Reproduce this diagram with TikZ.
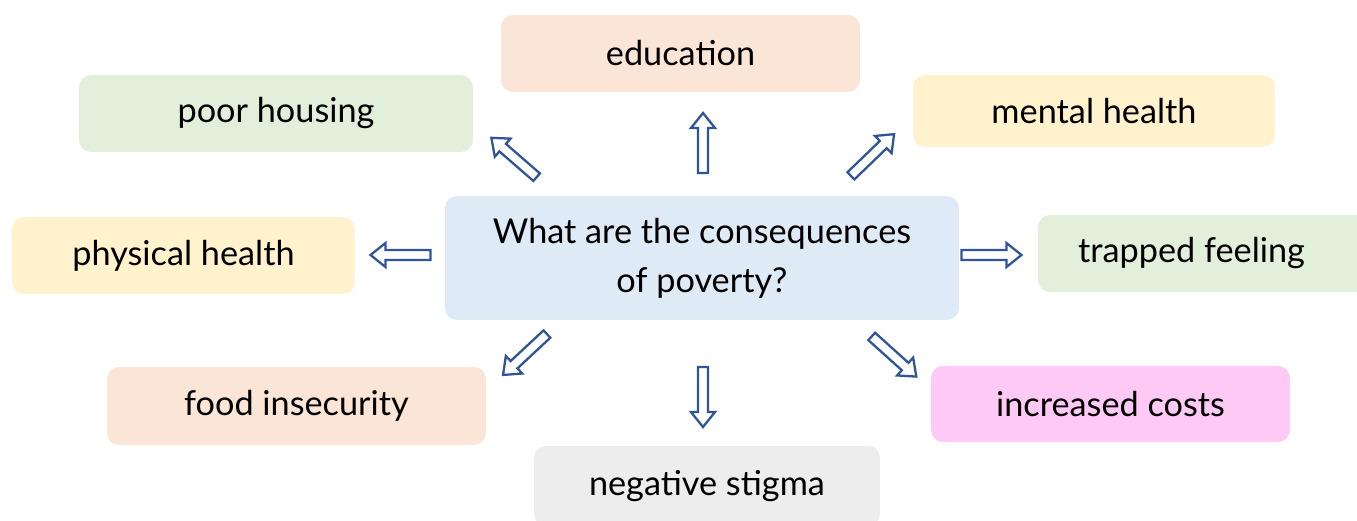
\documentclass[tikz,border=0pt]{standalone}
\usepackage{fontspec}
\setmainfont{Lato}
\usepackage{tikz}

\definecolor{peach}{HTML}{FBE5D6}
\definecolor{sage}{HTML}{E2EFDA}
\definecolor{cream}{HTML}{FFF2CC}
\definecolor{sky}{HTML}{DEEAF6}
\definecolor{pale}{HTML}{EDEDED}
\definecolor{pinky}{HTML}{FFC9F5}
\definecolor{arrowblue}{HTML}{2F5597}

\begin{document}
\begin{tikzpicture}[x=.02cm,y=-.02cm,
    box/.style={rounded corners=0.24cm,inner sep=0pt,align=center,
      font=\fontsize{19.5}{28}\selectfont},
    fatarrow/.pic={\draw[arrowblue,line width=1.3pt,fill=white,line join=miter]
      (-30,-5) -- (15,-5) -- (15,-12) -- (30,0) -- (15,12) -- (15,5) -- (-30,5) -- cycle;}]
    \useasboundingbox (0,0) rectangle (1357,521);
            \node[box,fill=sky,minimum width=10.28cm,minimum height=2.48cm] (Q) at (702,258)
                {What are the consequences\\of poverty?};
            \node[box,fill=peach,minimum width=7.18cm,minimum height=1.54cm] (Edu) at (680.5,53.5) {education};
            \node[box,fill=sage,minimum width=7.88cm,minimum height=1.54cm] (Hou) at (276,113.5) {poor housing};
            \node[box,fill=cream,minimum width=7.24cm,minimum height=1.44cm] (Men) at (1094,111) {mental health};
            \node[box,fill=cream,minimum width=6.86cm,minimum height=1.54cm] (Phy) at (183.5,255.5) {physical health};
            \node[box,fill=sage,minimum width=6.84cm,minimum height=1.54cm] (Tra) at (1209,253.5) {\hspace*{-0.7cm}trapped feeling};
            \node[box,fill=peach,minimum width=7.58cm,minimum height=1.56cm] (Foo) at (296.5,406) {food insecurity};
            \node[box,fill=pale,minimum width=6.92cm,minimum height=1.6cm] (Neg) at (707,486) {\raisebox{0.12cm}{negative stigma}};
            \node[box,fill=pinky,minimum width=7.18cm,minimum height=1.52cm] (Inc) at (1110.5,404) {increased costs};
            % block arrows out of the question
            \pic[rotate=139] (A1) at (514,157.5) {fatarrow};
            \pic[rotate=90] (A2) at (703,143) {fatarrow};
            \pic[rotate=44] (A3) at (872.5,155) {fatarrow};
            \pic[rotate=180] (A4) at (400.5,255) {fatarrow};
            \pic (A5) at (991.5,255) {fatarrow};
            \pic[rotate=-137] (A6) at (525,354.5) {fatarrow};
            \pic[rotate=-90] (A7) at (703,397) {fatarrow};
            \pic[rotate=-42] (A8) at (894,356.5) {fatarrow};
        \end{tikzpicture}
\end{document}
